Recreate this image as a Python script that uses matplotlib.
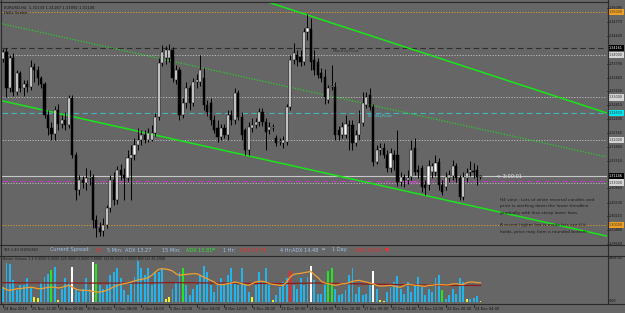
import matplotlib
matplotlib.use("Agg")
import matplotlib.pyplot as plt
import matplotlib.transforms as mtrans
from matplotlib.lines import Line2D

# ---------------- data ----------------
opens = [1.3390, 1.3407, 1.3322, 1.3393, 1.3313, 1.3357, 1.3322, 1.3332, 1.3324, 1.3371,
         1.3364, 1.3346, 1.3332, 1.3259, 1.3228, 1.3214, 1.3270, 1.3238, 1.3247, 1.3235,
         1.3299, 1.3165, 1.3082, 1.3106, 1.3099, 1.3111, 1.3113, 1.3012, 1.2993, 1.2986,
         1.3000, 1.3040, 1.3106, 1.3059, 1.3129, 1.3118, 1.3111, 1.3158, 1.3165, 1.3188,
         1.3200, 1.3212, 1.3200, 1.3200, 1.3216, 1.3254, 1.3381, 1.3393, 1.3393, 1.3411,
         1.3341, 1.3364, 1.3259, 1.3287, 1.3322, 1.3287, 1.3336, 1.3336, 1.3346, 1.3282,
         1.3287, 1.3247, 1.3228, 1.3207, 1.3228, 1.3212, 1.3259, 1.3247, 1.3310, 1.3254,
         1.3223, 1.3176, 1.3228, 1.3235, 1.3242, 1.3266, 1.3242, 1.3223, 1.3228, 1.3205,
         1.3195, 1.3193, 1.3195, 1.3277, 1.3388, 1.3400, 1.3395, 1.3383, 1.3454, 1.3461,
         1.3388, 1.3383, 1.3357, 1.3348, 1.3294, 1.3324, 1.3324, 1.3223, 1.3212, 1.3212,
         1.3235, 1.3235, 1.3193, 1.3212, 1.3240, 1.3282, 1.3306, 1.3277, 1.3148, 1.3176,
         1.3181, 1.3165, 1.3134, 1.3165, 1.3165, 1.3101, 1.3113, 1.3106, 1.3113, 1.3181,
         1.3129, 1.3134, 1.3094, 1.3094, 1.3125, 1.3125, 1.3148, 1.3094, 1.3089, 1.3111,
         1.3115, 1.3139, 1.3111, 1.3066, 1.3111, 1.3125, 1.3127, 1.3129, 1.31133]
highs = [1.3414, 1.3416, 1.3400, 1.3404, 1.3364, 1.3362, 1.3341, 1.3341, 1.3388, 1.3381,
         1.3374, 1.3350, 1.3336, 1.3270, 1.3242, 1.3280, 1.3285, 1.3259, 1.3266, 1.3306,
         1.3306, 1.3172, 1.3118, 1.3115, 1.3134, 1.3129, 1.3120, 1.3024, 1.3007, 1.3017,
         1.3047, 1.3118, 1.3125, 1.3139, 1.3144, 1.3134, 1.3176, 1.3188, 1.3205, 1.3228,
         1.3223, 1.3223, 1.3228, 1.3235, 1.3263, 1.3393, 1.3423, 1.3421, 1.3425, 1.3418,
         1.3376, 1.3371, 1.3299, 1.3336, 1.3329, 1.3346, 1.3355, 1.3400, 1.3369, 1.3294,
         1.3299, 1.3259, 1.3247, 1.3238, 1.3238, 1.3270, 1.3270, 1.3322, 1.3317, 1.3266,
         1.3228, 1.3242, 1.3252, 1.3252, 1.3275, 1.3275, 1.3252, 1.3242, 1.3238, 1.3212,
         1.3205, 1.3209, 1.3285, 1.3400, 1.3428, 1.3411, 1.3411, 1.3463, 1.3496, 1.3487,
         1.3411, 1.3393, 1.3369, 1.3367, 1.3329, 1.3376, 1.3336, 1.3233, 1.3242, 1.3259,
         1.3247, 1.3247, 1.3223, 1.3270, 1.3313, 1.3313, 1.3322, 1.3285, 1.3188, 1.3193,
         1.3193, 1.3176, 1.3181, 1.3176, 1.3223, 1.3125, 1.3120, 1.3129, 1.3200, 1.3205,
         1.3141, 1.3141, 1.3106, 1.3153, 1.3146, 1.3165, 1.3158, 1.3106, 1.3125, 1.3129,
         1.3153, 1.3146, 1.3118, 1.3125, 1.3134, 1.3151, 1.3146, 1.3141, 1.31187]
lows = [1.3383, 1.3301, 1.3313, 1.3303, 1.3306, 1.3313, 1.3303, 1.3313, 1.3317, 1.3336,
        1.3329, 1.3322, 1.3252, 1.3212, 1.3200, 1.3200, 1.3223, 1.3228, 1.3223, 1.3228,
        1.3158, 1.3059, 1.3071, 1.3087, 1.3082, 1.3094, 1.2993, 1.2972, 1.2974, 1.2974,
        1.2993, 1.3031, 1.3047, 1.3050, 1.3106, 1.3059, 1.3101, 1.3059, 1.3153, 1.3176,
        1.3188, 1.3193, 1.3195, 1.3198, 1.3209, 1.3247, 1.3374, 1.3379, 1.3383, 1.3336,
        1.3332, 1.3247, 1.3252, 1.3275, 1.3270, 1.3280, 1.3322, 1.3327, 1.3270, 1.3256,
        1.3235, 1.3216, 1.3195, 1.3200, 1.3205, 1.3200, 1.3235, 1.3238, 1.3247, 1.3200,
        1.3165, 1.3165, 1.3219, 1.3228, 1.3233, 1.3233, 1.3176, 1.3214, 1.3221, 1.3186,
        1.3188, 1.3181, 1.3188, 1.3270, 1.3379, 1.3374, 1.3374, 1.3376, 1.3435, 1.3364,
        1.3353, 1.3346, 1.3336, 1.3285, 1.3287, 1.3317, 1.3200, 1.3200, 1.3205, 1.3205,
        1.3176, 1.3176, 1.3186, 1.3200, 1.3233, 1.3275, 1.3270, 1.3139, 1.3144, 1.3165,
        1.3158, 1.3125, 1.3125, 1.3129, 1.3092, 1.3092, 1.3089, 1.3097, 1.3106, 1.3118,
        1.3111, 1.3078, 1.3071, 1.3082, 1.3111, 1.3115, 1.3082, 1.3071, 1.3082, 1.3101,
        1.3106, 1.3101, 1.3059, 1.3059, 1.3101, 1.3115, 1.3111, 1.3094, 1.31092]
closes = [1.3407, 1.3322, 1.3393, 1.3313, 1.3357, 1.3322, 1.3332, 1.3324, 1.3371, 1.3364,
          1.3346, 1.3332, 1.3259, 1.3228, 1.3214, 1.3270, 1.3238, 1.3247, 1.3235, 1.3299,
          1.3165, 1.3082, 1.3106, 1.3099, 1.3111, 1.3113, 1.3012, 1.2993, 1.2984, 1.3000,
          1.3040, 1.3106, 1.3059, 1.3129, 1.3118, 1.3111, 1.3158, 1.3165, 1.3188, 1.3200,
          1.3212, 1.3200, 1.3216, 1.3216, 1.3254, 1.3381, 1.3407, 1.3411, 1.3411, 1.3346,
          1.3364, 1.3259, 1.3287, 1.3322, 1.3287, 1.3336, 1.3341, 1.3364, 1.3282, 1.3266,
          1.3247, 1.3223, 1.3207, 1.3228, 1.3212, 1.3259, 1.3247, 1.3310, 1.3254, 1.3212,
          1.3176, 1.3230, 1.3235, 1.3242, 1.3266, 1.3242, 1.3219, 1.3230, 1.3230, 1.3193,
          1.3198, 1.3200, 1.3277, 1.3388, 1.3404, 1.3388, 1.3383, 1.3454, 1.3463, 1.3383,
          1.3364, 1.3353, 1.3346, 1.3301, 1.3322, 1.3327, 1.3212, 1.3212, 1.3230, 1.3238,
          1.3233, 1.3193, 1.3212, 1.3240, 1.3287, 1.3301, 1.3277, 1.3148, 1.3176, 1.3181,
          1.3165, 1.3134, 1.3169, 1.3153, 1.3101, 1.3113, 1.3106, 1.3111, 1.3176, 1.3125,
          1.3125, 1.3089, 1.3087, 1.3139, 1.3139, 1.3146, 1.3094, 1.3078, 1.3113, 1.3118,
          1.3139, 1.3111, 1.3066, 1.3113, 1.3122, 1.3129, 1.3125, 1.3113, 1.31146]

volumes = [2270, 5800, 5650, 3280, 1760, 2520, 2520, 3630, 2270, 760,
           600, 3020, 3780, 4280, 4790, 5290, 250, 2020, 3530, 3020,
           5290, 1760, 1510, 2020, 3530, 2020, 5950, 5650, 2520, 2020,
           2520, 4030, 4540, 5140, 3530, 1760, 1010, 3020, 3780, 6150,
           5040, 4030, 5140, 2520, 4540, 4540, 5140, 400, 760, 2020,
           3020, 4540, 5040, 2520, 1010, 2020, 2520, 4030, 5440, 4540,
           2520, 1510, 3020, 3530, 2520, 4030, 5040, 3020, 2520, 5040,
           2520, 1510, 760, 2520, 4540, 3020, 5140, 2520, 250, 1010,
           2270, 3020, 3530, 4640, 2520, 2020, 3530, 2520, 3780, 5440,
           3280, 1260, 1260, 2520, 4640, 5140, 2020, 1010, 1260, 1760,
           4030, 5040, 1260, 2270, 1010, 1260, 2520, 4690, 2020, 250,
           100, 1510, 2270, 3020, 3930, 2020, 1260, 3020, 1510, 2520,
           3780, 2270, 1010, 2020, 1510, 3530, 4030, 1760, 500, 1010,
           2020, 1260, 3530, 3020, 500, 500, 600, 860, 200]
volume_kind = ("bbbbbbbbby" "ybbbgbybbb" "wbbbbbwgbb" "bbbbbbbbbb" "bbbbbbbyyb"
               "bbgbbbbbbb" "bbbbbbbbbb" "bbybbbbbyb" "bbbrbbbbbw" "bbbbggbbbb"
               "bbbbbbbwby" "ybbbbbbbbb" "bbbbbbbgbb" "bbbbybbby")
volume_ma_fast = [2150, 1850, 1750, 1850, 2000, 2000, 2100, 2150, 2200, 2150,
                  2000, 2000, 2100, 2200, 2250, 2200, 2100, 2200, 2350, 2500,
                  2250, 1950, 1800, 1750, 1750, 1700, 1600, 1500, 1500, 1600,
                  1750, 2000, 2250, 2500, 2650, 2750, 2850, 3000, 3150, 3300,
                  3400, 3500, 3650, 4000, 4500, 4900, 5000, 4950, 4850, 4650,
                  4250, 4000, 4100, 4150, 4200, 4250, 4250, 4000, 3750, 3500,
                  3250, 3000, 2650, 2600, 2650, 2750, 2850, 3000, 2900, 2750,
                  2600, 2500, 2750, 3000, 3100, 3100, 3000, 2750, 2650, 2600,
                  2500, 2500, 3000, 3750, 4150, 4250, 4300, 4400, 4500, 4600,
                  4100, 3700, 3100, 2850, 2750, 2650, 2500, 2600, 2750, 2750,
                  2900, 3100, 3200, 3250, 3100, 3000, 2850, 2750, 2500, 2400,
                  2400, 2450, 2500, 2400, 2250, 2250, 2500, 2650, 2600, 2500,
                  2500, 2400, 2350, 2500, 2500, 2600, 2600, 2600, 2550, 2600,
                  2700, 2750, 2650, 2600, 2900, 3000, 3000, 2900, 2900]
volume_ma_slow = [2900, 2900, 2900, 2890, 2890, 2890, 2880, 2880, 2880, 2880,
                  2870, 2870, 2870, 2870, 2860, 2860, 2860, 2860, 2860, 2850,
                  2850, 2850, 2850, 2850, 2840, 2840, 2840, 2840, 2830, 2830,
                  2830, 2830, 2830, 2840, 2840, 2840, 2850, 2850, 2850, 2850,
                  2860, 2860, 2870, 2870, 2880, 2890, 2900, 2900, 2910, 2910,
                  2910, 2900, 2900, 2900, 2890, 2890, 2880, 2880, 2870, 2870,
                  2860, 2860, 2850, 2850, 2840, 2840, 2830, 2830, 2820, 2820,
                  2810, 2810, 2800, 2800, 2790, 2790, 2780, 2780, 2770, 2770,
                  2770, 2760, 2770, 2790, 2800, 2810, 2820, 2830, 2840, 2850,
                  2850, 2840, 2830, 2820, 2810, 2800, 2790, 2780, 2770, 2760,
                  2750, 2740, 2730, 2720, 2710, 2700, 2690, 2680, 2670, 2660,
                  2650, 2640, 2630, 2620, 2610, 2600, 2590, 2580, 2570, 2560,
                  2560, 2550, 2550, 2540, 2540, 2530, 2530, 2520, 2520, 2510,
                  2510, 2500, 2500, 2500, 2490, 2490, 2490, 2480, 2480]

date_labels = ["24 Nov 2010", "25 Nov 12:00", "26 Nov 20:00", "30 Nov 00:00", "1 Dec 08:00",
               "2 Dec 16:00", "5 Dec 22:00", "7 Dec 04:00", "8 Dec 12:00", "9 Dec 20:00",
               "13 Dec 00:00", "14 Dec 08:00", "15 Dec 16:00", "17 Dec 00:00", "20 Dec 04:00",
               "21 Dec 12:00", "22 Dec 20:00", "24 Dec 04:00"]
price_ticks = [1.35090, 1.34770, 1.34440, 1.33790, 1.33460, 1.33140, 1.32810,
               1.32490, 1.32160, 1.31840, 1.31510, 1.30860, 1.30530, 1.30210,
               1.29880, 1.29550]
round_levels_major = [1.35, 1.30]
round_levels_minor = [1.34, 1.33, 1.32, 1.31]
monthly_pivot = 1.34161
weekly_pivot = 1.32633
daily_pivot = 1.31035
# trendline anchors (bar index, price)
tl_upper = [(76.6, 1.3524), (174.6, 1.3263)]
tl_lower = [(-0.3, 1.3292), (174.6, 1.2974)]
tl_mid = [(-0.3, 1.3473), (174.6, 1.3160)]

header = "EURUSD,H4  1.31133 1.31187 1.31092 1.31146"
vol_top_label = "6908.05"
vol_bottom_label = "0.00"

# ---------------- figure ----------------
W, H = 625, 313
BG = "#666666"
fig = plt.figure(figsize=(W / 100, H / 100), dpi=100)
fig.patch.set_facecolor(BG)
plt.rcParams["font.family"] = ["DejaVu Sans"]


def ax_at(x0, y0, x1, y1):
    a = fig.add_axes([x0 / W, 1 - y1 / H, (x1 - x0) / W, (y1 - y0) / H])
    a.set_facecolor(BG)
    for s in a.spines.values():
        s.set_visible(False)
    a.set_xticks([])
    a.set_yticks([])
    return a


XMIN, XMAX = -0.29, 174.57
n = len(closes)
xs = list(range(n))

ax = ax_at(2, 2, 607, 244)
ax.set_xlim(XMIN, XMAX)
ax.set_ylim(1.29555, 1.35242)

# horizontal levels
for lv in round_levels_major:
    ax.axhline(lv, color="#e39a2a", lw=0.7, ls=(0, (1.2, 1.6)), zorder=1)
for lv in round_levels_minor:
    ax.axhline(lv, color="#bdbdbd", lw=0.7, ls=(0, (1.2, 1.6)), zorder=1)
ax.axhline(monthly_pivot, color="#2e2e2e", lw=0.8, ls=(0, (5, 3)), zorder=1)
ax.axhline(weekly_pivot, color="#41b4bd", lw=0.8, ls=(0, (5, 3)), zorder=1)
ax.axhline(daily_pivot, color="#c43cc4", lw=0.8, ls=(0, (5, 3)), zorder=1)
ax.axhline(closes[-1], color="#c8c8c8", lw=0.8, zorder=1)

ax.text(95.4, monthly_pivot - 0.0003, "MonthlyPivot", fontsize=3.0, color="#333333",
        va="top", ha="left", zorder=1)
ax.text(105.5, weekly_pivot - 0.00025, "WeeklyPivot", fontsize=3.0, color="#45c8d2",
        va="top", ha="left", zorder=1)
ax.text(115.9, daily_pivot - 0.0001, "DailyPivot", fontsize=3.0, color="#e040e0",
        va="top", ha="left", zorder=1)

# trendlines
for tl, ls, lw in ((tl_upper, "-", 1.1), (tl_lower, "-", 1.1), (tl_mid, (0, (1, 1.5)), 0.8)):
    ax.plot([tl[0][0], tl[1][0]], [tl[0][1], tl[1][1]], color="#19e619", lw=lw, ls=ls,
            zorder=2, solid_capstyle="butt")

# candles
for i in xs:
    o, h, l, c = opens[i], highs[i], lows[i], closes[i]
    ax.vlines(i, l, h, color="black", lw=0.7, zorder=3)
    up = c >= o
    bot = min(o, c)
    hgt = max(abs(c - o), 0.00012)
    ax.bar(i, hgt, bottom=bot, width=0.62, color="white" if up else "black",
           edgecolor="black", linewidth=0.35, zorder=4)

# header texts
ax.text(0.003, 0.985, header, transform=ax.transAxes, fontsize=2.7, color="#111111",
        va="top", ha="left")
ax.text(0.003, 0.962, "Hello Seeker", transform=ax.transAxes, fontsize=2.7,
        color="#111111", va="top", ha="left")

# candle timer
ax.text(142.3, closes[-1], "<--3:00:01", fontsize=3.6, color="#e6e6e6", va="center",
        ha="left", zorder=5)

# annotation
note1 = ["H4 view : Lots of white reversal candles and",
         "price is working down the lower trendline",
         "gradually with less steep lower lows."]
note2 = ["A recent higher low is made lets see if it",
         "holds, price may form a rounded bottom."]
for k, s in enumerate(note1):
    fig.text(500 / W, 1 - (200 + 6.5 * k) / H, s, fontsize=3.1, color="#1c1c1c",
             va="center", ha="left")
for k, s in enumerate(note2):
    fig.text(500 / W, 1 - (225 + 6.5 * k) / H, s, fontsize=3.1, color="#1c1c1c",
             va="center", ha="left")

# right price axis labels
tr = mtrans.blended_transform_factory(ax.transAxes, ax.transData)
xl = (609 - 2) / 605
for p in price_ticks:
    ax.text(xl, p, f"{p:.5f}", transform=tr, fontsize=2.4, color="#111111", va="center",
            ha="left", clip_on=False)
    ax.plot([1.0, 1.003], [p, p], transform=tr, color="#222222", lw=0.5, clip_on=False)

boxes = [(1.35, "#f0a020", "#333333"),
         (monthly_pivot, "#000000", "#ffffff"),
         (1.34, "#d4d4d4", "#333333"),
         (1.33, "#d4d4d4", "#333333"),
         (weekly_pivot, "#00e8f0", "#333333"),
         (1.32, "#d4d4d4", "#333333"),
         (closes[-1], "#000000", "#ffffff"),
         (daily_pivot, "#ff00ff", "#ffffff"),
         (1.31, "#d4d4d4", "#333333"),
         (1.30, "#f0a020", "#333333")]
for p, fc, tc in boxes:
    y = p
    if p == daily_pivot:
        y = p - 0.0003
    ax.text(xl, y, f"{p:.5f}", transform=tr, fontsize=2.4, color=tc, va="center",
            ha="left", clip_on=False, zorder=6,
            bbox=dict(boxstyle="square,pad=0.35", fc=fc, ec="none"))

# ---------------- info strip ----------------
LB = "#9ec3ec"
RED = "#ff2a2a"
GRN = "#2ee62e"
strip = [(3, "TrIX 1.40 (EURUSD)", "#1e1e1e", 2.6),
         (50, "Current Spread:", LB, 3.6), (96, "33", RED, 3.6),
         (107, "5 Min:", LB, 3.6), (125, "ADX 13.27", LB, 3.6),
         (162, "15 Min:", LB, 3.6), (186, "ADX 15.81", GRN, 3.6), (212, "\u2550", GRN, 3.6),
         (223, "1 Hr:", LB, 3.6), (240, "ADX 15.75", RED, 3.6),
         (280, "4 Hr:", LB, 3.6), (292, "ADX 14.48", LB, 3.6), (322, "\u2550", LB, 3.6),
         (332, "1 Day:", LB, 3.6), (355, "ADX 24.25", RED, 3.6), (385, "\u25a0", RED, 3.0)]
for x, s, c, fs in strip:
    fig.text(x / W, 1 - 250 / H, s, fontsize=fs, color=c, va="center", ha="left")

# ---------------- volume panel ----------------
axv = ax_at(2, 256, 607, 303)
axv.set_xlim(XMIN, XMAX)
axv.set_ylim(-150, 6908)
kind_color = {"b": "#22b4ea", "y": "#f2f22a", "g": "#22e622", "w": "#ffffff", "r": "#ff2020"}
axv.bar(xs, volumes, width=0.55, color=[kind_color[k] for k in volume_kind], zorder=2)
axv.plot(xs, volume_ma_slow, color="#8e1a1a", lw=0.9, zorder=3)
axv.plot(xs, volume_ma_fast, color="#f0a030", lw=0.9, zorder=4)
axv.text(0.002, 0.93, "Better Volume 1.4 0.0000 0.0000 426.0000 0.0000 0.0000 14198.0000 "
         "0.0000 RSI(14) 46.4948", transform=axv.transAxes, fontsize=2.45, color="#1e1e1e",
         va="center", ha="left")
trv = mtrans.blended_transform_factory(axv.transAxes, axv.transData)
axv.text(xl, 6650, vol_top_label, transform=trv, fontsize=2.4, color="#111111",
         va="center", ha="left", clip_on=False)
axv.text(xl, 150, vol_bottom_label, transform=trv, fontsize=2.4, color="#111111",
         va="center", ha="left", clip_on=False)

# dates
trd = mtrans.blended_transform_factory(axv.transData, fig.transFigure)
for k, lab in enumerate(date_labels):
    xi = 8 * k
    axv.text(xi + 0.3, 1 - 308.5 / H, lab, transform=trd, fontsize=2.6, color="#111111",
             va="center", ha="left", clip_on=False)
    axv.plot([xi, xi], [1 - 304 / H, 1 - 307 / H], transform=trd, color="#111111", lw=0.5,
             clip_on=False)

# separators
def fline(x0, y0, x1, y1, c="#2a2a2a", lw=0.8):
    fig.add_artist(Line2D([x0 / W, x1 / W], [1 - y0 / H, 1 - y1 / H],
                          transform=fig.transFigure, color=c, lw=lw))

fline(607.5, 0, 607.5, 304)
fline(1.5, 0, 1.5, 304)
fline(0, 1.5, 607.5, 1.5)
fline(0, 244.5, 625, 244.5)
fline(0, 255.5, 625, 255.5)
fline(0, 303.5, 625, 303.5)

fig.savefig("out.png", dpi=100, facecolor=BG)
